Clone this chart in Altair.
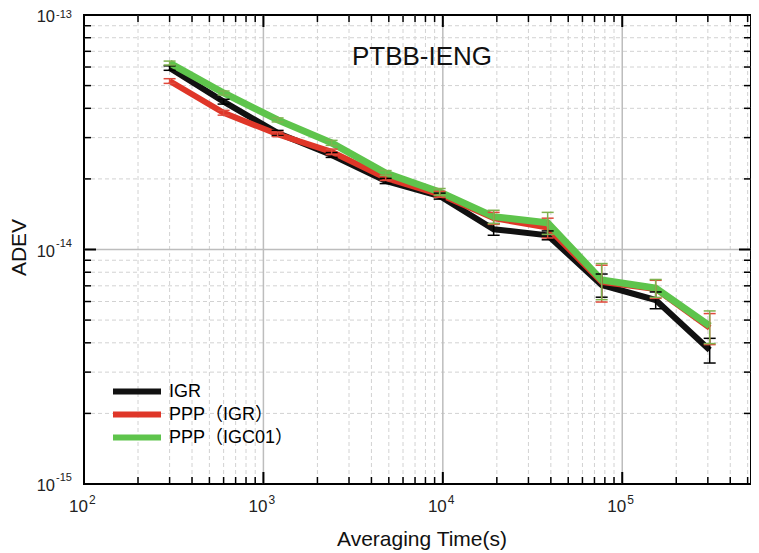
import altair as alt
import pandas as pd

# ---------------- data ----------------
tau = [300, 600, 1200, 2400, 4800, 9600, 19200, 38400, 76800, 153600, 307200]
series_names = ["IGR", "PPP（IGR）", "PPP（IGC01）"]

adev_igr = [5.94e-14, 4.27e-14, 3.14e-14, 2.53e-14, 1.96e-14, 1.69e-14,
            1.22e-14, 1.15e-14, 7.06e-15, 6.09e-15, 3.73e-15]
adev_ppp_igr = [5.23e-14, 3.83e-14, 3.10e-14, 2.61e-14, 2.02e-14, 1.72e-14,
                1.36e-14, 1.24e-14, 7.27e-15, 6.79e-15, 4.63e-15]
adev_ppp_igc01 = [6.24e-14, 4.65e-14, 3.57e-14, 2.85e-14, 2.12e-14, 1.76e-14,
                  1.38e-14, 1.30e-14, 7.41e-15, 6.85e-15, 4.72e-15]

err_igr = [1.3e-15, 1.0e-15, 0.8e-15, 0.6e-15, 0.5e-15, 0.5e-15,
           0.7e-15, 0.5e-15, 0.8e-15, 0.5e-15, 0.45e-15]
err_ppp_igr = [1.2e-15, 0.9e-15, 0.7e-15, 0.7e-15, 0.5e-15, 0.5e-15,
               0.8e-15, 1.2e-15, 1.3e-15, 0.6e-15, 0.7e-15]
err_ppp_igc01 = [1.2e-15, 0.9e-15, 0.7e-15, 0.7e-15, 0.5e-15, 0.6e-15,
                 0.9e-15, 1.4e-15, 1.3e-15, 0.6e-15, 0.75e-15]

# axis tick values and labels
x_major = [1000, 10000, 100000]
x_minor = [200, 300, 400, 500, 600, 700, 800, 900,
           2000, 3000, 4000, 5000, 6000, 7000, 8000, 9000,
           20000, 30000, 40000, 50000, 60000, 70000, 80000, 90000,
           200000, 300000, 400000, 500000]
x_label_vals = [100, 1000, 10000, 100000]
x_label_exp = ["2", "3", "4", "5"]

y_major = [1e-14]
y_minor = [2e-15, 3e-15, 4e-15, 5e-15, 6e-15, 7e-15, 8e-15, 9e-15,
           2e-14, 3e-14, 4e-14, 5e-14, 6e-14, 7e-14, 8e-14, 9e-14]
y_label_vals = [1e-15, 1e-14, 1e-13]
y_label_exp = ["-15", "-14", "-13"]

chart_title = "PTBB-IENG"
x_title = "Averaging Time(s)"
y_title = "ADEV"

# ---------------- styling ----------------
W, H = 667, 469
FONT = "Liberation Sans, Arial, Noto Sans CJK SC"
line_colors = ["#111111", "#df3628", "#5ec44c"]
err_colors = ["#000000", "#e04a3c", "#7fb24f"]
line_widths = [6, 6, 7]

xs = alt.Scale(type="log", domain=[100, 522000], nice=False)
ys = alt.Scale(type="log", domain=[1e-15, 1e-13], nice=False)

values = [adev_igr, adev_ppp_igr, adev_ppp_igc01]
errors = [err_igr, err_ppp_igr, err_ppp_igc01]
rows = []
for name, vals, errs in zip(series_names, values, errors):
    for t, v, e in zip(tau, vals, errs):
        rows.append({"series": name, "tau": t, "adev": v, "lo": v - e, "hi": v + e})
df = pd.DataFrame(rows)

X = lambda f="v": alt.X(f"{f}:Q", scale=xs, axis=None)
Y = lambda f="v": alt.Y(f"{f}:Q", scale=ys, axis=None)

layers = []

# grid
layers.append(alt.Chart(pd.DataFrame({"v": x_minor})).mark_rule(
    color="#d2d2d2", strokeDash=[4, 3], strokeWidth=1).encode(
    x=X(), y=alt.value(0), y2=alt.value(H)))
layers.append(alt.Chart(pd.DataFrame({"v": y_minor})).mark_rule(
    color="#d2d2d2", strokeDash=[4, 3], strokeWidth=1).encode(
    y=Y(), x=alt.value(0), x2=alt.value(W)))
layers.append(alt.Chart(pd.DataFrame({"v": x_major})).mark_rule(
    color="#bdbdbd", strokeWidth=1.5).encode(
    x=X(), y=alt.value(0), y2=alt.value(H)))
layers.append(alt.Chart(pd.DataFrame({"v": y_major})).mark_rule(
    color="#bdbdbd", strokeWidth=1.5).encode(
    y=Y(), x=alt.value(0), x2=alt.value(W)))

# inward ticks on all four sides
for vals_, ln, sw in [(x_minor, 7, 1.5), (x_major, 12, 2)]:
    d = pd.DataFrame({"v": vals_})
    layers.append(alt.Chart(d).mark_rule(color="black", strokeWidth=sw).encode(
        x=X(), y=alt.value(H), y2=alt.value(H - ln)))
    layers.append(alt.Chart(d).mark_rule(color="black", strokeWidth=sw).encode(
        x=X(), y=alt.value(0), y2=alt.value(ln)))
for vals_, ln, sw in [(y_minor, 7, 1.5), (y_major, 12, 2)]:
    d = pd.DataFrame({"v": vals_})
    layers.append(alt.Chart(d).mark_rule(color="black", strokeWidth=sw).encode(
        y=Y(), x=alt.value(0), x2=alt.value(ln)))
    layers.append(alt.Chart(d).mark_rule(color="black", strokeWidth=sw).encode(
        y=Y(), x=alt.value(W), x2=alt.value(W - ln)))

# lines (one layer per series to control drawing order), shared legend
legend = alt.Legend(
    title=None, orient="none", legendX=26, legendY=365, direction="vertical",
    symbolType="stroke", symbolStrokeWidth=6, symbolSize=2304,
    labelFont=FONT, labelFontSize=18, labelColor="black", labelOffset=5,
    clipHeight=23, rowPadding=0, padding=0, labelLimit=300,
)
color_enc = alt.Color("series:N", scale=alt.Scale(domain=series_names, range=line_colors),
                      legend=legend)
for name, lw in zip(series_names, line_widths):
    layers.append(alt.Chart(df[df.series == name]).mark_line(
        strokeWidth=lw, clip=True).encode(
        x=alt.X("tau:Q", scale=xs, axis=None),
        y=alt.Y("adev:Q", scale=ys, axis=None),
        color=color_enc,
        order=alt.Order("tau:Q"),
    ))

# error bars
for name, ec in zip(series_names, err_colors):
    d = df[df.series == name]
    layers.append(alt.Chart(d).mark_rule(color=ec, strokeWidth=1.5).encode(
        x=alt.X("tau:Q", scale=xs, axis=None),
        y=alt.Y("lo:Q", scale=ys, axis=None), y2="hi:Q"))
    for f in ["lo", "hi"]:
        layers.append(alt.Chart(d).mark_tick(
            color=ec, orient="horizontal", size=12, thickness=1.5, opacity=1).encode(
            x=alt.X("tau:Q", scale=xs, axis=None),
            y=alt.Y(f"{f}:Q", scale=ys, axis=None)))

# tick labels 10^n
dxl = pd.DataFrame({"v": x_label_vals, "e": x_label_exp, "b": ["10"] * 4})
layers.append(alt.Chart(dxl).mark_text(
    font=FONT, fontSize=17, align="right", baseline="alphabetic", dx=4, color="#222").encode(
    x=X(), y=alt.value(H + 28), text="b:N"))
layers.append(alt.Chart(dxl).mark_text(
    font=FONT, fontSize=12, align="left", baseline="alphabetic", dx=5, color="#222").encode(
    x=X(), y=alt.value(H + 20), text="e:N"))
dyl = pd.DataFrame({"v": y_label_vals, "e": y_label_exp, "b": ["10"] * 3})
layers.append(alt.Chart(dyl).mark_text(
    font=FONT, fontSize=16.5, align="right", baseline="alphabetic", dy=7, color="#222").encode(
    y=Y(), x=alt.value(-29), text="b:N"))
# exponents: the top one sits at the view edge, so it is kept slightly lower
layers.append(alt.Chart(dyl[dyl.v < 5e-14]).mark_text(
    font=FONT, fontSize=11, align="left", baseline="alphabetic", dy=-3, color="#222").encode(
    y=Y(), x=alt.value(-28), text="e:N"))
layers.append(alt.Chart(dyl[dyl.v > 5e-14]).mark_text(
    font=FONT, fontSize=11, align="left", baseline="alphabetic", dy=2.5, color="#222").encode(
    y=Y(), x=alt.value(-28), text="e:N"))

# titles
layers.append(alt.Chart(pd.DataFrame({"t": [chart_title]})).mark_text(
    font=FONT, fontSize=26, align="center", baseline="alphabetic", color="#111").encode(
    x=alt.value(338), y=alt.value(50), text="t:N"))
layers.append(alt.Chart(pd.DataFrame({"t": [x_title]})).mark_text(
    font=FONT, fontSize=21, align="center", baseline="alphabetic", color="#111").encode(
    x=alt.value(338), y=alt.value(H + 62), text="t:N"))
layers.append(alt.Chart(pd.DataFrame({"t": [y_title]})).mark_text(
    font=FONT, fontSize=21, align="center", baseline="alphabetic", angle=270, color="#111").encode(
    x=alt.value(-58), y=alt.value(H / 2 - 2), text="t:N"))

chart = alt.layer(*layers).properties(
    width=W, height=H,
    autosize=alt.AutoSizeParams(type="none"),
    padding={"left": 76, "top": 7, "right": 0, "bottom": 70},
).configure_view(stroke="black", strokeWidth=2)

chart.save("out.html", embed_options={"renderer": "svg", "actions": False})
